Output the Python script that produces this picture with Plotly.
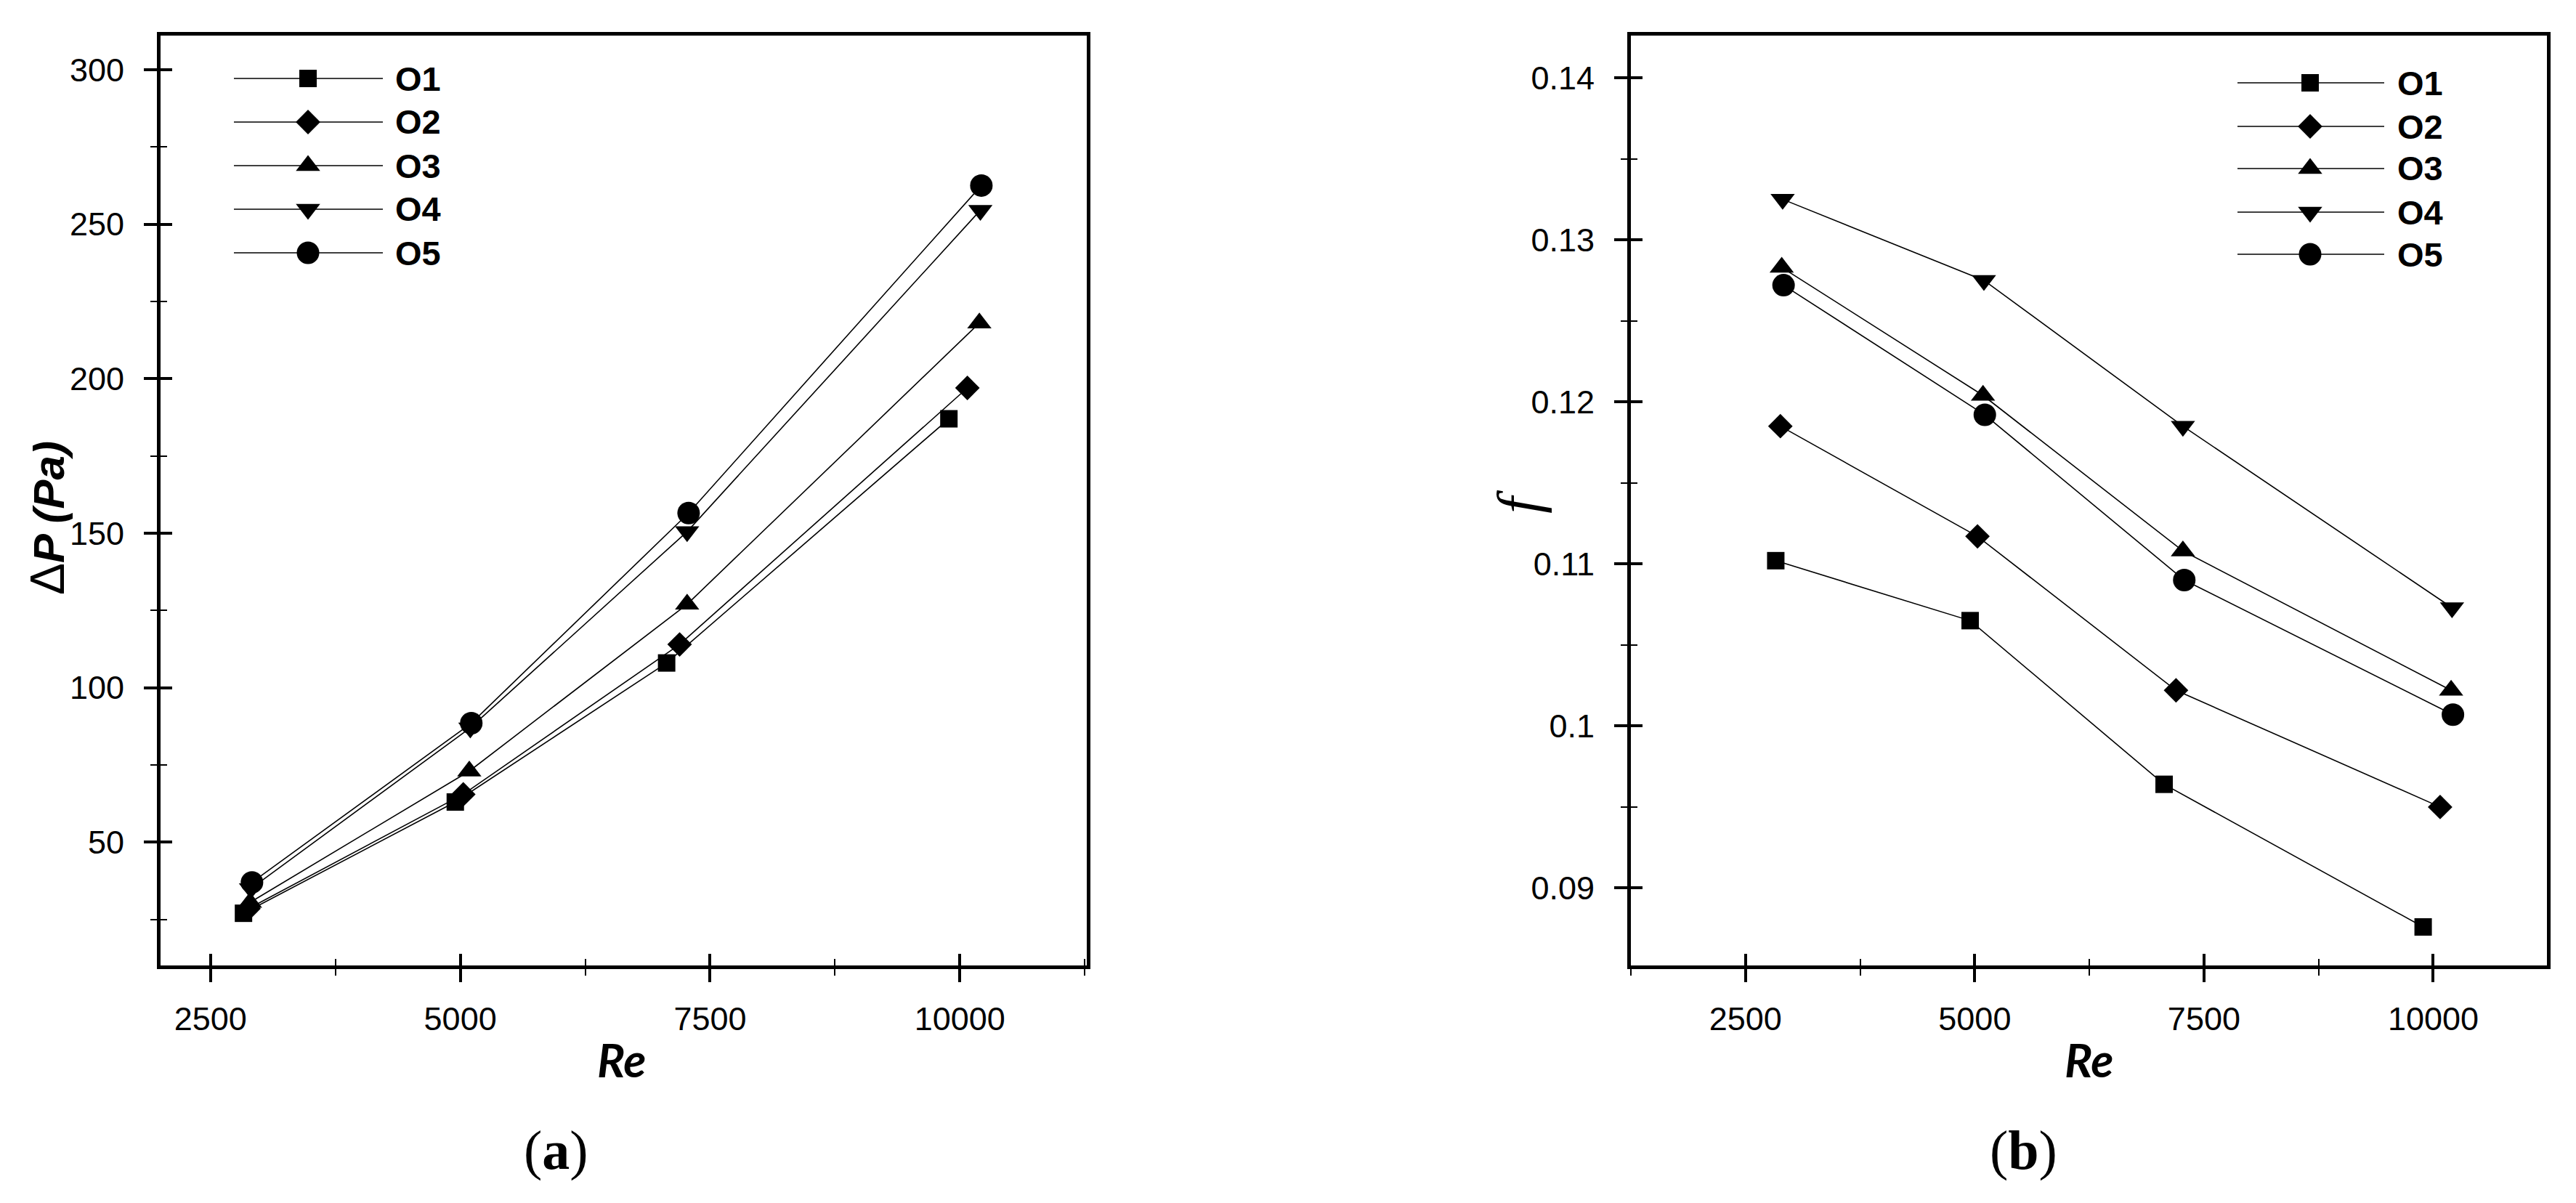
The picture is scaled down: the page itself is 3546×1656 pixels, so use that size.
import plotly.graph_objects as go

W, H = 3546, 1656

# ---------------- data ----------------
series_names = ["O1", "O2", "O3", "O4", "O5"]

re_o1 = [2830, 4950, 7065, 9890]
re_o2 = [2880, 5030, 7195, 10075]
re_o3 = [2895, 5090, 7270, 10195]
re_o4 = [2905, 5100, 7270, 10205]
re_o5 = [2915, 5110, 7285, 10215]

dp_o1 = [27.0, 63.0, 108.0, 187.0]
dp_o2 = [28.5, 65.5, 114.0, 197.0]
dp_o3 = [30.5, 73.0, 127.0, 218.0]
dp_o4 = [35.0, 87.0, 150.5, 254.5]
dp_o5 = [37.0, 88.5, 156.5, 262.5]

f_o1 = [0.1102, 0.1065, 0.0964, 0.0876]
f_o2 = [0.1185, 0.1117, 0.1022, 0.0950]
f_o3 = [0.1283, 0.1204, 0.1108, 0.1022]
f_o4 = [0.1325, 0.1275, 0.1185, 0.1073]
f_o5 = [0.1272, 0.1192, 0.1090, 0.1007]

x_tickvals = [2500, 5000, 7500, 10000]
x_ticktext = ["2500", "5000", "7500", "10000"]
dp_tickvals = [50, 100, 150, 200, 250, 300]
dp_ticktext = ["50", "100", "150", "200", "250", "300"]
f_tickvals = [0.09, 0.10, 0.11, 0.12, 0.13, 0.14]
f_ticktext = ["0.09", "0.1", "0.11", "0.12", "0.13", "0.14"]

re_all = [re_o1, re_o2, re_o3, re_o4, re_o5]
dp_all = [dp_o1, dp_o2, dp_o3, dp_o4, dp_o5]
f_all = [f_o1, f_o2, f_o3, f_o4, f_o5]

# ---------------- styles ----------------
symbols = ["square", "diamond", "triangle-up", "triangle-down", "circle"]
sizes = [24, 26, 29, 29, 31]
TICK_FONT = dict(family="Liberation Sans Narrow, Arial Narrow, Liberation Sans, Arial", size=45, color="black")
LEG_FONT = dict(family="Liberation Sans Narrow, Arial Narrow, Liberation Sans, Arial", size=47, color="black")

# legend layout (pixel positions)
leg_a_x = [314, 416, 519, 534]
leg_a_y = [100, 160, 220, 280, 340]
leg_b_x = [3072, 3172, 3274, 3290]
leg_b_y = [106, 166, 224, 284, 342]

fig = go.Figure()

for i in range(5):
    fig.add_trace(go.Scatter(
        x=re_all[i], y=dp_all[i], xaxis="x", yaxis="y", mode="lines+markers",
        line=dict(color="black", width=1.6),
        marker=dict(symbol=symbols[i], size=sizes[i], color="black", line=dict(width=0)),
        showlegend=False, name=series_names[i]))
    fig.add_trace(go.Scatter(
        x=re_all[i], y=f_all[i], xaxis="x2", yaxis="y2", mode="lines+markers",
        line=dict(color="black", width=1.6),
        marker=dict(symbol=symbols[i], size=sizes[i], color="black", line=dict(width=0)),
        showlegend=False, name=series_names[i]))

# invisible traces for inside-tick overlay axes
for xa, ya in [("x3", "y3"), ("x4", "y4")]:
    fig.add_trace(go.Scatter(x=[None], y=[None], xaxis=xa, yaxis=ya, mode="markers",
                             showlegend=False, hoverinfo="skip"))

# custom legends on a pixel axis
annotations = []
for lx, ly in [(leg_a_x, leg_a_y), (leg_b_x, leg_b_y)]:
    for i in range(5):
        fig.add_trace(go.Scatter(x=[lx[0], lx[2]], y=[ly[i], ly[i]], xaxis="x5", yaxis="y5",
                                 mode="lines", line=dict(color="black", width=1.6),
                                 showlegend=False, hoverinfo="skip"))
        fig.add_trace(go.Scatter(x=[lx[1]], y=[ly[i]], xaxis="x5", yaxis="y5", mode="markers",
                                 marker=dict(symbol=symbols[i], size=sizes[i], color="black", line=dict(width=0)),
                                 showlegend=False, hoverinfo="skip"))
        annotations.append(dict(x=lx[3] / W, y=1 - ly[i] / H, xref="paper", yref="paper",
                                text="<b>" + series_names[i] + "</b>", showarrow=False,
                                xanchor="left", yanchor="middle", font=LEG_FONT))

XA = [0.06007, 0.41963]
XB = [0.63085, 0.98646]
YD = [0.2020, 0.9752]

x_range_a = [2000, 11270]
x_range_b = [1250, 11240]
y_range_a = [10, 311]
y_range_b = [0.0852, 0.1426]


def main_axis(domain, rng, tv, tt, minor_t0, minor_dt, anchor, standoff):
    return dict(domain=domain, range=rng, tickmode="array", tickvals=tv, ticktext=tt,
                showline=True, mirror=True, linecolor="black", linewidth=5,
                ticks="outside", ticklen=18, tickwidth=4, tickcolor="black",
                ticklabelstandoff=standoff,
                minor=dict(tickmode="linear", tick0=minor_t0, dtick=minor_dt, ticks="outside",
                           ticklen=9, tickwidth=1.5, tickcolor="black", showgrid=False),
                showgrid=False, zeroline=False, tickfont=TICK_FONT, anchor=anchor,
                automargin=False, fixedrange=True)


def inside_axis(domain, rng, tv, minor_t0, minor_dt, overlay, anchor):
    return dict(domain=domain, range=rng, tickmode="array", tickvals=tv,
                showticklabels=False, showline=False, overlaying=overlay, anchor=anchor,
                ticks="inside", ticklen=16, tickwidth=4, tickcolor="black",
                minor=dict(tickmode="linear", tick0=minor_t0, dtick=minor_dt, ticks="inside",
                           ticklen=9, tickwidth=1.5, tickcolor="black", showgrid=False),
                showgrid=False, zeroline=False, automargin=False, fixedrange=True)


layout = dict(
    width=W, height=H, paper_bgcolor="white", plot_bgcolor="rgba(0,0,0,0)",
    margin=dict(l=0, r=0, t=0, b=0), showlegend=False,
    xaxis=main_axis(XA, x_range_a, x_tickvals, x_ticktext, 1250, 2500, "y", 12),
    yaxis=main_axis(YD, y_range_a, dp_tickvals, dp_ticktext, 25, 50, "x", 18),
    xaxis2=main_axis(XB, x_range_b, x_tickvals, x_ticktext, 1250, 2500, "y2", 12),
    yaxis2=main_axis(YD, y_range_b, f_tickvals, f_ticktext, 0.085, 0.01, "x2", 18),
    xaxis3=inside_axis(XA, x_range_a, x_tickvals, 1250, 2500, "x", "y3"),
    yaxis3=inside_axis(YD, y_range_a, dp_tickvals, 25, 50, "y", "x3"),
    xaxis4=inside_axis(XB, x_range_b, x_tickvals, 1250, 2500, "x2", "y4"),
    yaxis4=inside_axis(YD, y_range_b, f_tickvals, 0.085, 0.01, "y2", "x4"),
    xaxis5=dict(domain=[0, 1], range=[0, W], visible=False, anchor="y5", fixedrange=True),
    yaxis5=dict(domain=[0, 1], range=[H, 0], visible=False, anchor="x5", fixedrange=True),
)

TITLE_FONT = dict(family="Lato, Open Sans, Liberation Sans", size=64, color="black")
annotations += [
    dict(x=57 / W, y=1 - 705 / H, xref="paper", yref="paper", textangle=-90, showarrow=False,
         text="<span style='font-size:66px'>Δ</span><b><i>P (Pa)</i></b>",
         font=dict(family="Liberation Sans, Arial", size=60, color="black"),
         xanchor="center", yanchor="middle"),
    dict(x=2083 / W, y=1 - 683 / H, xref="paper", yref="paper", textangle=-90, showarrow=False,
         text="<i>f</i>", font=dict(family="Liberation Serif, Times New Roman", size=82, color="black"),
         xanchor="center", yanchor="middle"),
    dict(x=848 / W, y=1 - 1450 / H, xref="paper", yref="paper", showarrow=False,
         text="<b><i>Re</i></b>", font=TITLE_FONT, xanchor="center", yanchor="middle"),
    dict(x=2868 / W, y=1 - 1450 / H, xref="paper", yref="paper", showarrow=False,
         text="<b><i>Re</i></b>", font=TITLE_FONT, xanchor="center", yanchor="middle"),
    dict(x=757 / W, y=1 - 1575 / H, xref="paper", yref="paper", showarrow=False,
         text="(<b>a</b>)", font=dict(family="Liberation Serif, Times New Roman", size=76, color="black"),
         xanchor="center", yanchor="middle"),
    dict(x=2777 / W, y=1 - 1575 / H, xref="paper", yref="paper", showarrow=False,
         text="(<b>b</b>)", font=dict(family="Liberation Serif, Times New Roman", size=76, color="black"),
         xanchor="center", yanchor="middle"),
]
layout["annotations"] = annotations

fig.update_layout(**layout)
fig.write_html("out.html", config={"displayModeBar": False})
